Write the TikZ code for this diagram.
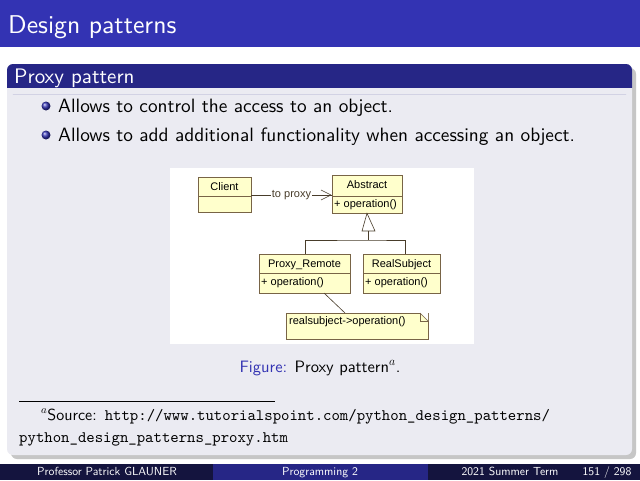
\documentclass[tikz,border=0pt]{standalone}
\usepackage{fontspec}
\setsansfont{lmsans10-regular.otf}
\setmonofont{lmmono10-regular.otf}
\newfontfamily\umlfont{Liberation Sans}
\usetikzlibrary{shapes, arrows.meta, positioning, calc, shadows}
\definecolor{titleblue}{RGB}{51, 51, 179}
\definecolor{headblue}{RGB}{38, 38, 134}
\definecolor{darkblue}{RGB}{20, 20, 62}
\definecolor{blockgray}{RGB}{235, 235, 242}
\definecolor{umlfill}{RGB}{255, 255, 204}
\definecolor{umlline}{RGB}{120, 100, 70}
\tikzset{
  umlbox/.style={draw=umlline, fill=umlfill, line width=0.6pt, inner sep=0pt},
  umltext/.style={font=\umlfont\fontsize{11}{12}\selectfont, inner sep=1pt},
  slidetext/.style={font=\sffamily\fontsize{19.3}{22}\selectfont, anchor=base west, inner sep=0pt},
  bullet/.style={circle, inner sep=0pt, minimum size=9pt, shading=ball, ball color=titleblue},
  foot/.style={font=\sffamily\fontsize{11.7}{12}\selectfont, text=white, anchor=base, inner sep=0pt}
}
\begin{document}
\begin{tikzpicture}[x=1pt, y=-1pt]
  \useasboundingbox (0,0) rectangle (640,480);
  \fill[white] (0,0) rectangle (640,480);

  % Title bar
  \fill[titleblue] (0,0) rectangle (640,47);
  \node[font=\sffamily\fontsize{25.7}{28}\selectfont, text=white, anchor=base west, inner sep=0pt] (title) at (8,33) {Design patterns};

  % Block
  \fill[gray!45] (11,68) [rounded corners=6pt] rectangle (636,459);
  \fill[blockgray, rounded corners=6pt] (7,64) rectangle (632,455);
  \fill[headblue, rounded corners=6pt] (7,64) rectangle (632,94);
  \fill[blockgray] (7,88) rectangle (632,94);
  \fill[headblue] (7,80) rectangle (632,88);
  \node[font=\sffamily\fontsize{21}{24}\selectfont, text=white, anchor=base west, inner sep=0pt] (blockhead) at (14,83) {Proxy pattern};

  % Items
  \node[bullet] (b1) at (46,106) {};
  \node[slidetext] (item1) at (58,112) {Allows to control the access to an object.};
  \node[bullet] (b2) at (46,135) {};
  \node[slidetext] (item2) at (58,141) {Allows to add additional functionality when accessing an object.};

  % Figure
  \fill[white] (170,168) rectangle (474,344);
  \node[umlbox, minimum width=53pt, minimum height=35pt] (client) at (224.5,194.5) {};
  \draw[umlline, line width=0.6pt] (198,196) -- (251,196);
  \node[umltext] at (224.5,186.5) {Client};

  \node[umlbox, minimum width=70pt, minimum height=38pt] (abstract) at (367,194) {};
  \draw[umlline, line width=0.6pt] (332,196) -- (402,196);
  \node[umltext] at (367,185) {Abstract};
  \node[umltext, anchor=west] at (333,204.5) {+ operation()};

  \node[umlbox, minimum width=91pt, minimum height=39pt] (proxy) at (304.5,273.5) {};
  \draw[umlline, line width=0.6pt] (259,273) -- (350,273);
  \node[umltext] at (304.5,264.5) {Proxy\_Remote};
  \node[umltext, anchor=west] at (260,282.5) {+ operation()};

  \node[umlbox, minimum width=77pt, minimum height=39pt] (real) at (401.5,273.5) {};
  \draw[umlline, line width=0.6pt] (363,273) -- (440,273);
  \node[umltext] at (401.5,264.5) {RealSubject};
  \node[umltext, anchor=west] at (364,282.5) {+ operation()};

  \node[umlbox, minimum width=142pt, minimum height=26pt] (note) at (357,326) {};
  \fill[white] (420,313) -- (428,321) -- (428,313) -- cycle;
  \draw[umlline, line width=0.6pt] (420,313) -- (420,321) -- (428,321);
  \draw[umlline, line width=0.6pt] (420,313) -- (428,321);
  \node[umltext, anchor=west] at (288,321.5) {realsubject->operation()};

  \draw[umlline!60!black, line width=0.6pt] (client.east |- 0,195) -- node[fill=white, umltext, inner sep=0.5pt] {to proxy} (abstract.west |- 0,195);
  \draw[umlline!60!black, line width=0.6pt] (331,195) -- (321,190) (331,195) -- (321,200);
  \coordinate (joint) at (368,240);
  \draw[umlline!60!black, line width=0.6pt] (abstract.south) -- (362,231) -- (375,231) -- cycle;
  \draw[umlline!60!black, line width=0.6pt] (368,231) -- (joint);
  \draw[umlline!60!black, line width=0.6pt] (proxy.north -| 305,0) |- (joint) -| (real.north -| 405,0);
  \draw[umlline!60!black, line width=0.6pt] (324,293) -- (345,313);

  % Caption
  \node[font=\sffamily\fontsize{16.5}{18}\selectfont, anchor=base, inner sep=0pt] (caption) at (320,372)
    {\textcolor{titleblue}{Figure:} Proxy pattern$^{a}$.};

  % Footnote
  \draw[line width=0.5pt] (19,401) -- (275,401);
  \node[font=\fontsize{16}{22}\selectfont, anchor=base west, inner sep=0pt, text width=600pt, align=left] (source) at (19,420)
    {\hspace*{22pt}{\sffamily$^{a}$Source:} \texttt{http://www.tutorialspoint.com/python\_design\_patterns/}\\\texttt{python\_design\_patterns\_proxy.htm}};

  % Footer
  \fill[darkblue] (0,464) rectangle (213,480);
  \fill[headblue] (213,464) rectangle (428,480);
  \fill[darkblue] (428,464) rectangle (640,480);
  \node[foot] (author) at (107,475) {Professor Patrick GLAUNER};
  \node[foot] (course) at (320,475) {Programming 2};
  \node[foot] (term) at (510,475) {2021 Summer Term};
  \node[foot] (page) at (607,475) {151 / 298};
\end{tikzpicture}
\end{document}
